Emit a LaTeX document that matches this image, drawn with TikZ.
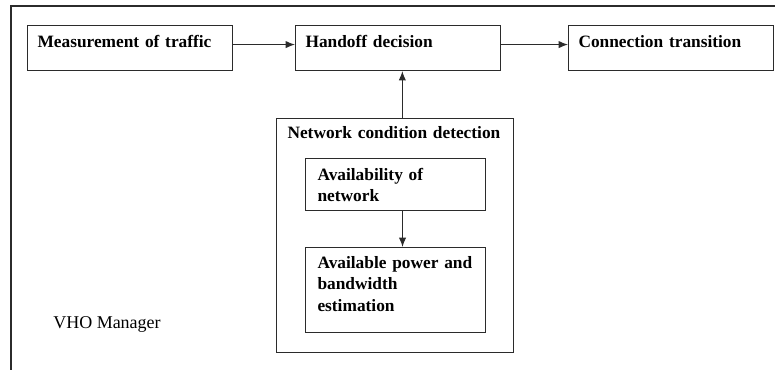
\documentclass[tikz,border=0pt]{standalone}
\usepackage{fontspec}
\setmainfont{Liberation Serif}
\usepackage{xcolor}
\usepackage{tikz}
\usetikzlibrary{arrows.meta, positioning}
\definecolor{edge}{HTML}{2B2B2B}
\newcommand{\txtsize}{\fontsize{13}{16}\selectfont}
\tikzset{
  blk/.style={rectangle, draw=edge, line width=0.8pt, anchor=north west, align=left, font=\txtsize\bfseries, inner ysep=0pt, inner xsep=7.5pt},
  row/.style={blk, text width=139pt, text height=16.5pt, text depth=17.25pt},
  sub/.style={blk, inner xsep=9pt, text width=117pt},
  arr/.style={-{Latex[length=7pt,width=5.5pt]}, line width=0.8pt, edge},
}

\begin{document}
\begin{tikzpicture}[x=0.75pt, y=-0.75pt, font=\txtsize]
\useasboundingbox (0,0) rectangle (775,370);
\draw[edge, line width=0.8pt] (790,6) -| (11,385);
\node[row] (meas) at (27,25) {Measurement of traffic};
\node[row] (hand) at (295,25) {Handoff decision};
\node[row] (conn) at (568,25) {Connection transition};
\node[blk, inner xsep=8.25pt, text width=161pt, text height=15pt, text depth=160.5pt] (ncd) at (276,118) {Network condition detection};
\node[sub, text height=16.5pt, text depth=22.5pt] (avail) at (305,158) {Availability of\\network};
\node[sub, text height=15.75pt, text depth=48pt] (power) at (305,247) {Available power and\\bandwidth\\estimation};
\node[anchor=base west, inner sep=0pt, font=\fontsize{13.5}{16}\selectfont] (vho) at (53,329) {VHO Manager};
\draw[arr]([yshift=2.6pt]meas.east)--([yshift=2.6pt]hand.west);\draw[arr]([yshift=2.6pt]hand.east)--([yshift=2.6pt]conn.west);
\draw[arr]([xshift=5.6pt]ncd.north)--([xshift=5.6pt]ncd.north |- hand.south);
\draw[arr]([xshift=5.25pt]avail.south)--([xshift=5.25pt]avail.south |- power.north);
\end{tikzpicture}
\end{document}
